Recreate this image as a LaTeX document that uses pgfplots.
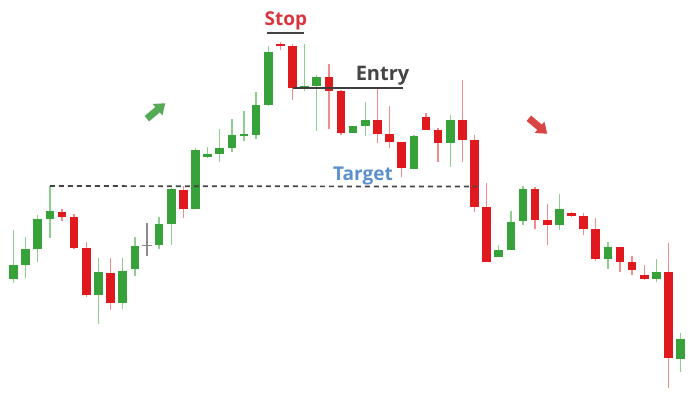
\documentclass[border=0pt]{standalone}
\usepackage{pgfplots}
\pgfplotsset{compat=1.18}
\usepackage{pgfplotstable}
\usepackage{fontspec}
\setmainfont{Open Sans}

\definecolor{bullbody}{HTML}{38A23A}
\definecolor{bullwick}{HTML}{8ECF8E}
\definecolor{bearbody}{HTML}{E0191F}
\definecolor{bearwick}{HTML}{EF8C8C}
\definecolor{dojigray}{HTML}{8A8A8A}
\definecolor{stopred}{HTML}{D8363C}
\definecolor{entrygray}{HTML}{444444}
\definecolor{targetblue}{HTML}{5A90CC}
\definecolor{upgreen}{HTML}{55AA55}
\definecolor{downred}{HTML}{D94444}

% candles: index, open, high, low, close
\pgfplotstableread{
i  o     h     l     c
1  119   168   115   133
2  133   161   120   149
3  149   183   136   179
4  179   212   160   187
8  103   140   74    126
10 95    140   89    127
11 129   161   122   152
13 153   181   149   174
14 174   210   153   209
16 189   250   189   248
17 241.3 251   240   244
18 243.7 269   236   250.3
19 250.3 279   246   262.7
20 262   287   257   263.7
21 262.7 306   259   293
22 293   352   292   346.3
25 310   354   307   312
26 312   323   267   321.3
29 265.3 272.3 265.3 272.3
30 272   296.3 262   278
34 229   263   229   262
37 254.7 283   231.3 278
41 141.3 153   141.3 147.7
42 147.7 187   147.7 176.3
43 177   212   173   208.7
46 173   203.7 168   189.3
50 139.3 155.7 128.7 150.7
54 119   138.7 116.3 126.3
56 38.7  64.7  26.3  58.7
}\bull

\pgfplotstableread{
i  o     h     l     c
5  186.3 189   177   181
6  181   184   149   150
7  150   156   101   103
9  125   140   88    95
15 208   212   180   189
23 354   355.7 348   351.5
24 352   354   298   309.7
27 321.3 333.7 268.7 307.3
28 307.3 308   263   264.7
31 278   309.7 254.7 264
32 264   291.5 249.7 256
33 255.7 256   221.3 229.5
35 280.5 285   268   268
36 268   270   236.3 254.7
38 278   318   235.5 258
39 257.5 262.7 186.3 191.3
40 191.3 215.3 136.3 136.3
44 208.7 210.7 168.7 178
45 178   194   153   173
47 185.3 186   181   182
48 182   184.7 163   169
49 169.3 179.7 137.3 139.3
51 150.7 150.7 126.3 136.3
52 136.3 142   123   128
53 123   133   118   118.7
55 126.3 155.3 9.7   39.7
}\bear

\pgfplotstableread{
i  o     h     l     c
12 152.3 175   142   152.3
}\doji

\pgfplotsset{
  wick/.style={draw=none, mark=none, forget plot,
    error bars/.cd, y dir=both, y explicit, error mark=none,
    error bar style={line width=1.4pt, draw=#1, solid}},
  body/.style={draw=none, mark=none, forget plot,
    error bars/.cd, y dir=both, y explicit, error mark=none,
    error bar style={line width=8.6pt, draw=#1, solid}},
}

\begin{document}
\begin{tikzpicture}
\begin{axis}[
  scale only axis, width=695pt, height=398pt,
  xmin=-0.113, xmax=57.18, ymin=0, ymax=398,
  hide axis, clip=false,
]
% wicks
\addplot[wick=bullwick] table[x=i, y expr={(\thisrow{h}+\thisrow{l})/2}, y error expr={(\thisrow{h}-\thisrow{l})/2}] {\bull};
\addplot[wick=bearwick] table[x=i, y expr={(\thisrow{h}+\thisrow{l})/2}, y error expr={(\thisrow{h}-\thisrow{l})/2}] {\bear};
\addplot[wick=dojigray] table[x=i, y expr={(\thisrow{h}+\thisrow{l})/2}, y error expr={(\thisrow{h}-\thisrow{l})/2}] {\doji};
% bodies
\addplot[body=bullbody] table[x=i, y expr={(\thisrow{o}+\thisrow{c})/2}, y error expr={abs(\thisrow{o}-\thisrow{c})/2}] {\bull};
\addplot[body=bearbody] table[x=i, y expr={(\thisrow{o}+\thisrow{c})/2}, y error expr={abs(\thisrow{o}-\thisrow{c})/2}] {\bear};
\addplot[only marks, mark=-, mark size=5pt, mark options={line width=1.6pt, draw=dojigray}, forget plot] table[x=i, y=o] {\doji};

% target level
\draw[entrygray, line width=1.7pt, dash pattern=on 5pt off 4pt] (axis cs:4,212) -- (axis cs:39.2,211.4);
% stop and entry levels
\draw[entrygray, line width=2pt] (axis cs:21.92,365.3) -- (axis cs:24.97,365.3);
\draw[entrygray!90!black, line width=2pt] (axis cs:24.07,310.3) -- (axis cs:33.13,310.3);

\node[anchor=base, text=stopred, font=\fontsize{19}{22}\selectfont\bfseries, inner sep=0pt] at (axis cs:23.46,372) {Stop};
\node[anchor=base, text=entrygray, font=\fontsize{20}{22}\selectfont\bfseries, inner sep=0pt] at (axis cs:31.42,317) {Entry};
\node[anchor=base, text=targetblue, font=\fontsize{19}{22}\selectfont\bfseries, inner sep=0pt] at (axis cs:29.81,217) {Target};

% trend arrows
\fill[upgreen, shift={(axis cs:12.75,287)}, rotate=40]
  (-12pt,-3.5pt) -- (2pt,-3.5pt) -- (2pt,-7.5pt) -- (12pt,0pt) -- (2pt,7.5pt) -- (2pt,3.5pt) -- (-12pt,3.5pt) -- cycle;
\fill[downred, shift={(axis cs:44.24,272)}, rotate=-40]
  (-12pt,-3.5pt) -- (2pt,-3.5pt) -- (2pt,-7.5pt) -- (12pt,0pt) -- (2pt,7.5pt) -- (2pt,3.5pt) -- (-12pt,3.5pt) -- cycle;
\end{axis}
\pgfresetboundingbox
\path (current axis.south west) rectangle (current axis.north east);
\end{tikzpicture}
\end{document}
